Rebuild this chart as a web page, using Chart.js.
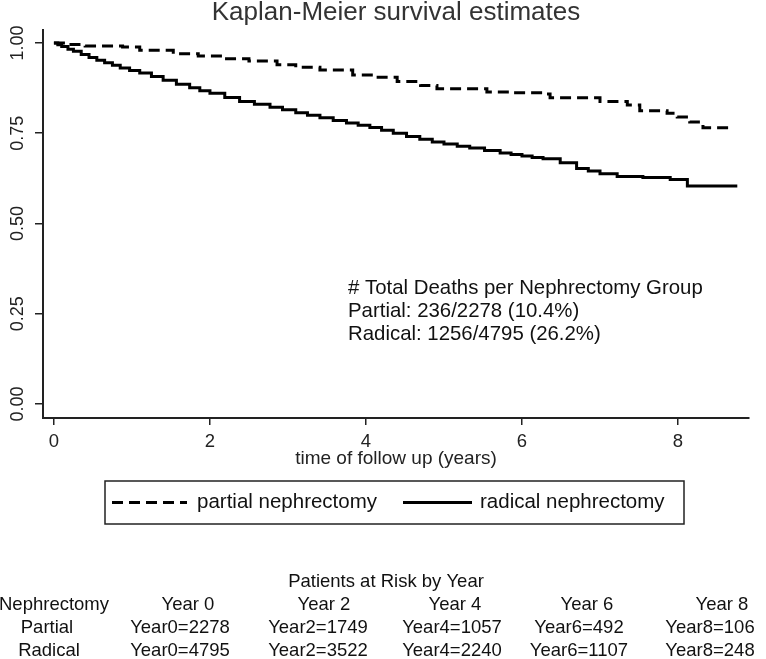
<!DOCTYPE html>
<html>
<head>
<meta charset="utf-8">
<script src="https://cdn.jsdelivr.net/npm/chart.js@4.4.1/dist/chart.umd.min.js"></script>
<style>
  html, body { margin: 0; padding: 0; background: #fff; }
  #wrap { width: 766px; height: 659px; }
</style>
</head>
<body>
<div id="wrap"><canvas id="kmChart" width="766" height="659"></canvas></div>
<script>
// survival curves (years, survival probability)
const partialTimes = [0, 0.15, 0.40, 0.88, 1.10, 1.53, 1.85, 2.17, 2.50, 2.86, 3.10, 3.41, 3.83, 4.10, 4.40, 4.70, 4.91, 5.55, 5.85, 6.27, 6.36, 7.00, 7.35, 7.51, 7.86, 7.99, 8.15, 8.32, 8.68];
const partialSurv  = [1.000, 0.996, 0.992, 0.989, 0.980, 0.970, 0.964, 0.956, 0.950, 0.940, 0.933, 0.925, 0.911, 0.905, 0.893, 0.882, 0.873, 0.864, 0.862, 0.859, 0.848, 0.838, 0.828, 0.812, 0.805, 0.795, 0.781, 0.765, 0.765];

const radicalTimes = [0, 0.05, 0.10, 0.18, 0.25, 0.35, 0.45, 0.55, 0.65, 0.75, 0.85, 0.97, 1.10, 1.25, 1.40, 1.57, 1.74, 1.87, 2.00, 2.19, 2.38, 2.57, 2.77, 2.93, 3.10, 3.25, 3.41, 3.58, 3.75, 3.90, 4.05, 4.20, 4.35, 4.52, 4.69, 4.85, 5.00, 5.17, 5.33, 5.52, 5.72, 5.86, 6.00, 6.13, 6.27, 6.49, 6.70, 6.85, 7.00, 7.22, 7.55, 7.90, 8.12, 8.76];
const radicalSurv  = [1.000, 0.995, 0.990, 0.983, 0.977, 0.968, 0.960, 0.952, 0.945, 0.938, 0.931, 0.924, 0.917, 0.907, 0.897, 0.886, 0.876, 0.868, 0.861, 0.849, 0.838, 0.830, 0.822, 0.815, 0.807, 0.800, 0.793, 0.785, 0.778, 0.772, 0.766, 0.758, 0.750, 0.741, 0.733, 0.726, 0.720, 0.714, 0.709, 0.702, 0.695, 0.691, 0.687, 0.683, 0.679, 0.668, 0.652, 0.645, 0.638, 0.630, 0.627, 0.622, 0.604, 0.604];

const seriesLabels = ['partial nephrectomy', 'radical nephrectomy'];
const xTicks = [0, 2, 4, 6, 8];
const yTicks = [0, 0.25, 0.5, 0.75, 1];

// deaths per group
const groupNames = ['Partial', 'Radical'];
const groupDeaths = [236, 1256];
const groupTotals = [2278, 4795];

// patients at risk table
const riskYears = [0, 2, 4, 6, 8];
const partialAtRisk = [2278, 1749, 1057, 492, 106];
const radicalAtRisk = [4795, 3522, 2240, 1107, 248];

const FONT = "'Liberation Sans', Arial, sans-serif";
Chart.defaults.font.family = FONT;

const toPoints = (xs, ys) => xs.map((t, i) => ({ x: t, y: ys[i] }));

const extras = {
  id: 'kmExtras',
  afterDraw(chart) {
    const ctx = chart.ctx;
    const area = chart.chartArea;
    const yScale = chart.scales.y;
    ctx.save();

    // title
    ctx.fillStyle = '#333';
    ctx.font = '26px ' + FONT;
    ctx.textAlign = 'center';
    ctx.textBaseline = 'middle';
    ctx.fillText('Kaplan-Meier survival estimates', (area.left + area.right) / 2, 13);

    // y tick labels, rotated
    ctx.fillStyle = '#222';
    ctx.font = '18px ' + FONT;
    yScale.ticks.forEach(t => {
      ctx.save();
      ctx.translate(18, yScale.getPixelForValue(t.value));
      ctx.rotate(-Math.PI / 2);
      ctx.fillText(t.value.toFixed(2), 0, 0);
      ctx.restore();
    });

    // deaths annotation
    ctx.fillStyle = '#111';
    ctx.font = '20.4px ' + FONT;
    ctx.textAlign = 'left';
    ctx.fillText('# Total Deaths per Nephrectomy Group', 348, 288);
    groupNames.forEach((g, i) => {
      const pct = (groupDeaths[i] / groupTotals[i] * 100).toFixed(1);
      ctx.fillText(g + ': ' + groupDeaths[i] + '/' + groupTotals[i] + ' (' + pct + '%)', 348, 311 + i * 23);
    });

    // legend box
    const lg = { left: 105, top: 481, right: 684, bottom: 524 };
    const ly = (lg.top + lg.bottom) / 2;
    ctx.strokeStyle = '#222';
    ctx.lineWidth = 1.5;
    ctx.strokeRect(lg.left, lg.top, lg.right - lg.left, lg.bottom - lg.top);
    ctx.strokeStyle = '#000';
    ctx.lineWidth = 3;
    ctx.setLineDash([11, 6]);
    ctx.beginPath(); ctx.moveTo(112, ly); ctx.lineTo(187, ly); ctx.stroke();
    ctx.setLineDash([]);
    ctx.beginPath(); ctx.moveTo(403, ly); ctx.lineTo(472, ly); ctx.stroke();
    ctx.fillStyle = '#111';
    ctx.font = '20.5px ' + FONT;
    ctx.fillText(seriesLabels[0], 197, ly);
    ctx.fillText(seriesLabels[1], 480, ly);

    // at-risk table
    ctx.font = '18.5px ' + FONT;
    ctx.textAlign = 'center';
    ctx.fillText('Patients at Risk by Year', 386, 582);
    const headX = [188, 324, 455, 587, 722];
    const cellX = [180, 318, 452, 579, 710];
    ctx.fillText('Nephrectomy', 54, 605);
    ctx.fillText('Partial', 47, 628);
    ctx.fillText('Radical', 49, 651);
    riskYears.forEach((yr, i) => {
      ctx.fillText('Year ' + yr, headX[i], 605);
      ctx.fillText('Year' + yr + '=' + partialAtRisk[i], cellX[i], 628);
      ctx.fillText('Year' + yr + '=' + radicalAtRisk[i], cellX[i], 651);
    });

    ctx.restore();
  }
};

new Chart(document.getElementById('kmChart'), {
  type: 'line',
  data: {
    datasets: [
      {
        label: seriesLabels[0],
        data: toPoints(partialTimes, partialSurv),
        borderColor: '#000',
        borderWidth: 3,
        borderDash: [11, 6],
        stepped: true,
        pointRadius: 0,
        fill: false
      },
      {
        label: seriesLabels[1],
        data: toPoints(radicalTimes, radicalSurv),
        borderColor: '#000',
        borderWidth: 3,
        stepped: true,
        pointRadius: 0,
        fill: false
      }
    ]
  },
  options: {
    responsive: false,
    animation: false,
    layout: { padding: { top: 30, left: 0, right: 17, bottom: 189 } },
    plugins: { legend: { display: false }, tooltip: { enabled: false }, title: { display: false } },
    scales: {
      x: {
        type: 'linear',
        min: -0.14,
        max: 8.91,
        afterBuildTicks: s => { s.ticks = xTicks.map(v => ({ value: v })); },
        afterFit: s => { s.height = 52; },
        grid: { drawOnChartArea: false, drawTicks: true, tickLength: 7, color: '#222', lineWidth: 1.5 },
        border: { display: true, color: '#222', width: 2 },
        ticks: { color: '#222', font: { size: 18.5 }, padding: 6 },
        title: { display: true, text: 'time of follow up (years)', color: '#222', font: { size: 19 }, padding: 0 }
      },
      y: {
        type: 'linear',
        min: -0.039,
        max: 1.036,
        afterBuildTicks: s => { s.ticks = yTicks.map(v => ({ value: v })); },
        afterFit: s => { s.width = 43; },
        grid: { drawOnChartArea: false, drawTicks: true, tickLength: 8, color: '#222', lineWidth: 1.5 },
        border: { display: true, color: '#222', width: 2 },
        ticks: { display: false }
      }
    }
  },
  plugins: [extras]
});
</script>
</body>
</html>
